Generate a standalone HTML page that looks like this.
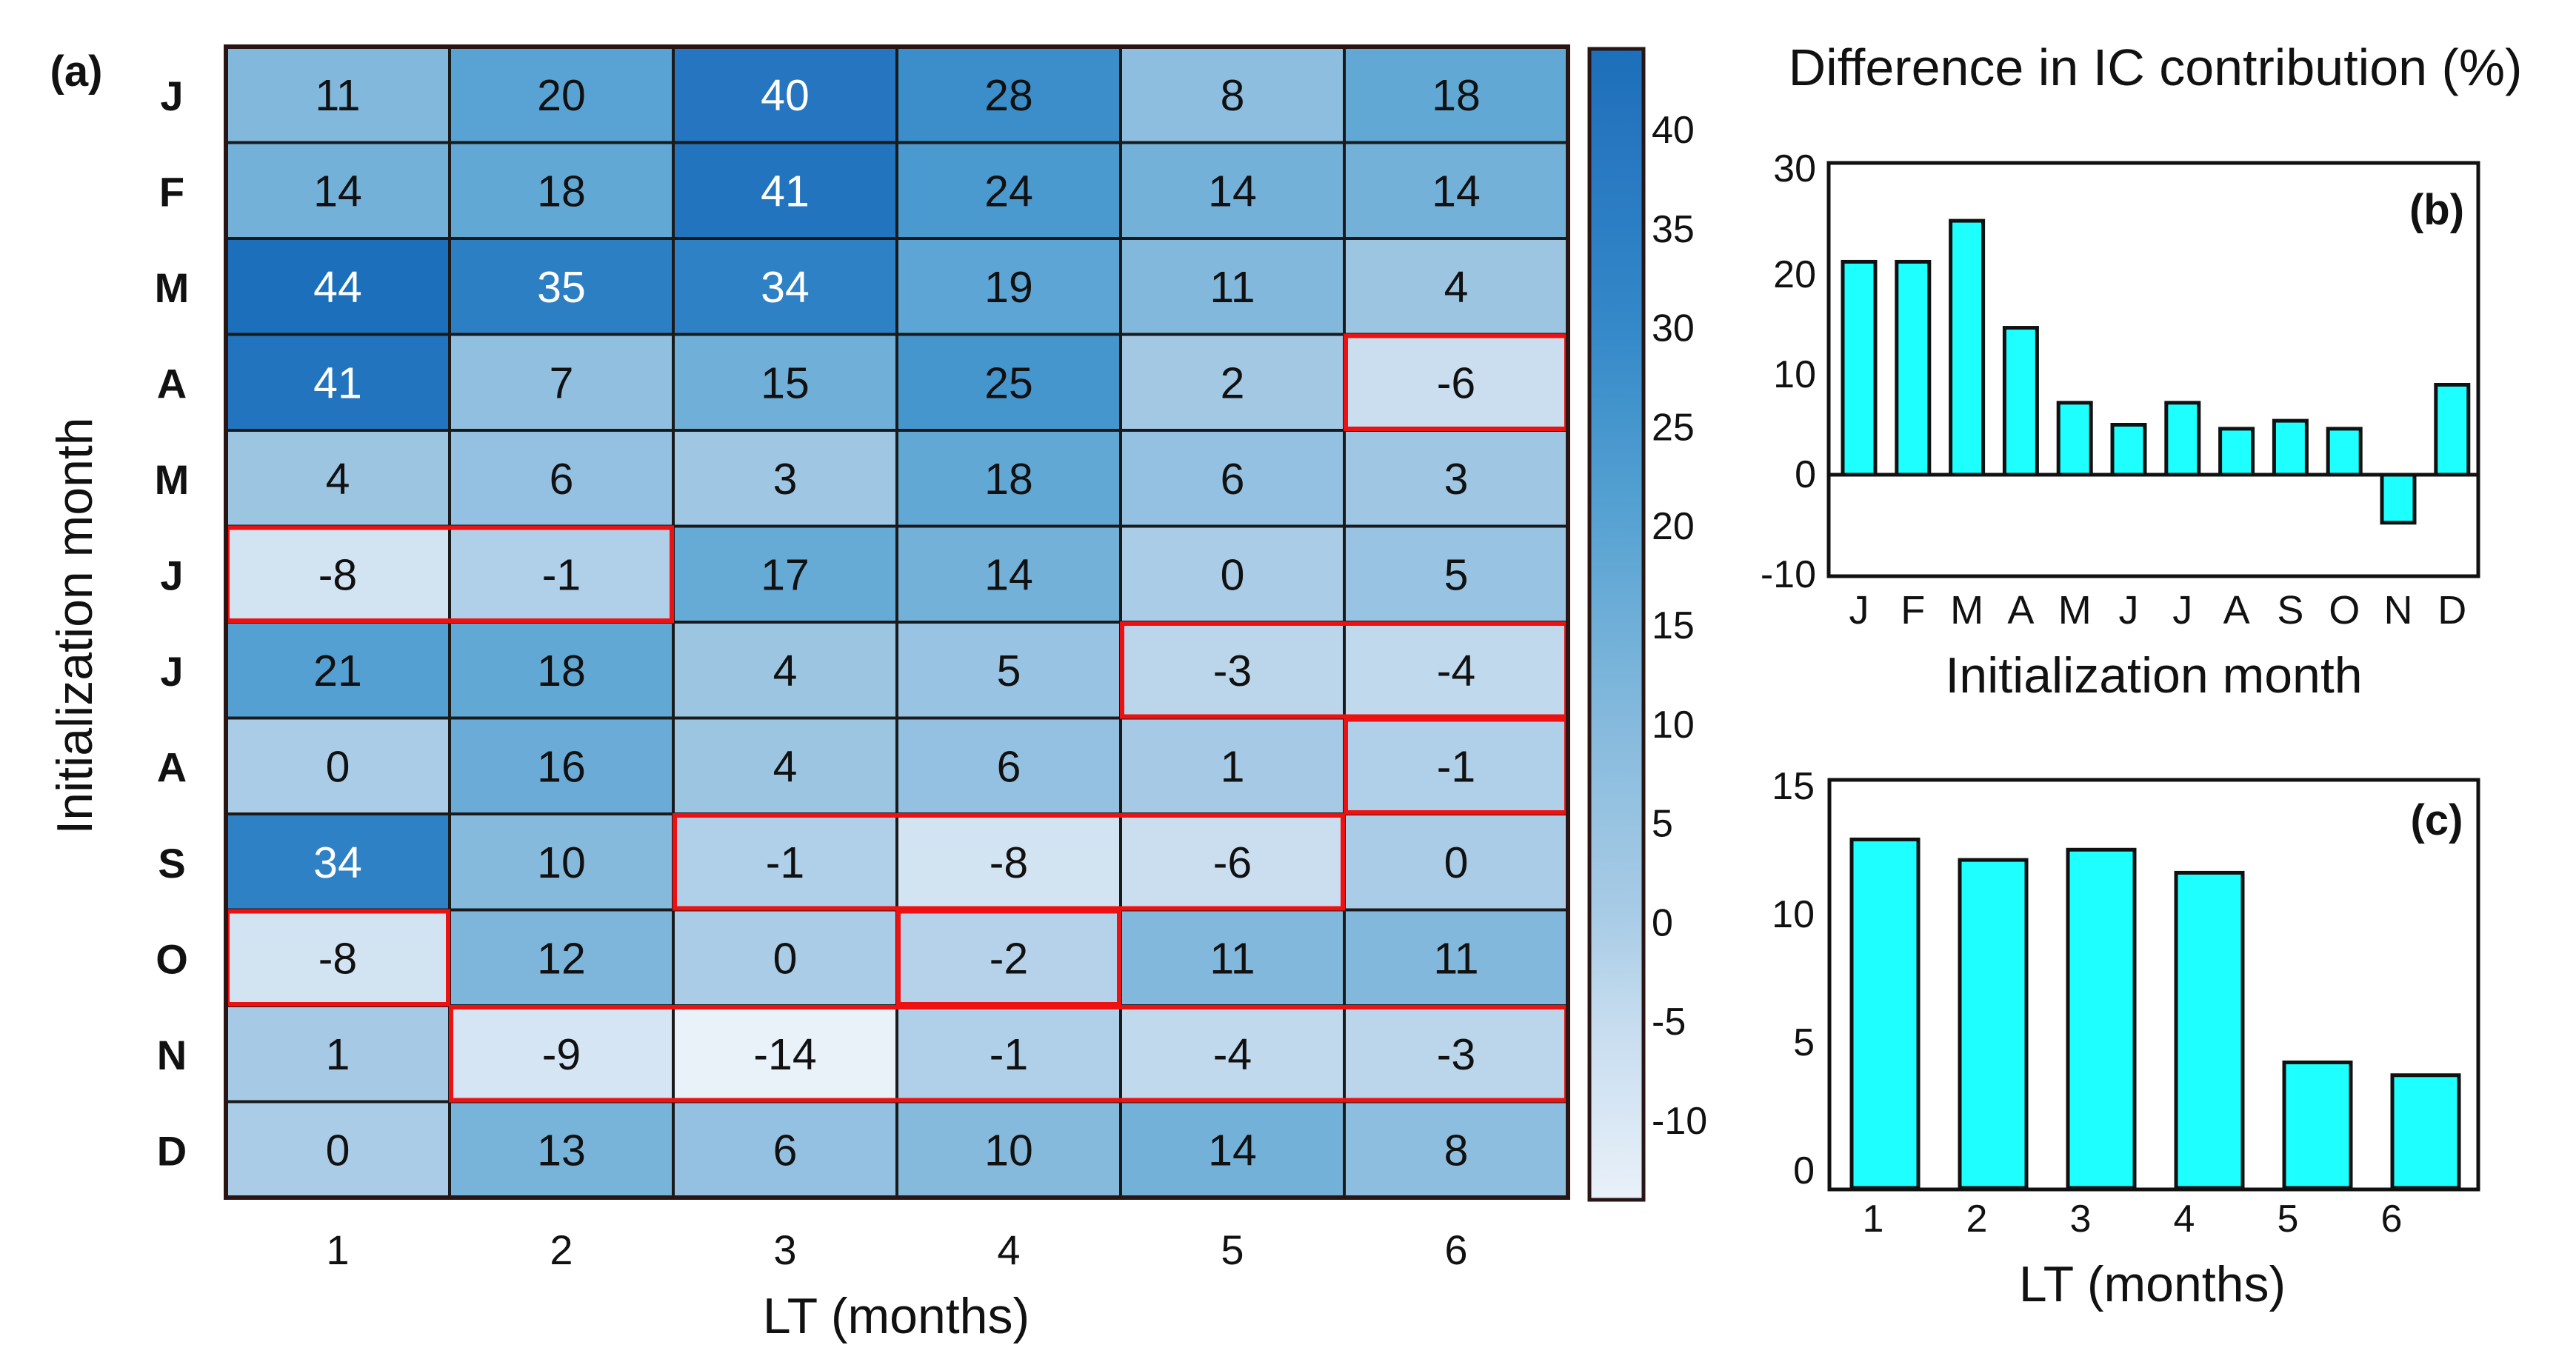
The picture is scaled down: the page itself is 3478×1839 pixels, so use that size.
<!DOCTYPE html>
<html><head><meta charset="utf-8"><style>
html,body{margin:0;padding:0;background:#fff;}
svg{display:block;font-family:"Liberation Sans",Arial,sans-serif;}
</style></head><body>
<svg id="fig" width="3478" height="1839" viewBox="0 0 3478 1839" xmlns="http://www.w3.org/2000/svg">
<g id="heat"></g>
<g id="cbar"></g>
<g id="pb"></g>
<g id="pc"></g>
</svg>
<script>
const rowLabels = ["J","F","M","A","M","J","J","A","S","O","N","D"];
const colLabels = ["1","2","3","4","5","6"];
const heatValues = [
 [11,20,40,28,8,18],
 [14,18,41,24,14,14],
 [44,35,34,19,11,4],
 [41,7,15,25,2,-6],
 [4,6,3,18,6,3],
 [-8,-1,17,14,0,5],
 [21,18,4,5,-3,-4],
 [0,16,4,6,1,-1],
 [34,10,-1,-8,-6,0],
 [-8,12,0,-2,11,11],
 [1,-9,-14,-1,-4,-3],
 [0,13,6,10,14,8]
];
const cbarTicks = [40,35,30,25,20,15,10,5,0,-5,-10];
const monthLabels = ["J","F","M","A","M","J","J","A","S","O","N","D"];
const monthValues = [21.3,21.3,25.4,14.7,7.2,5.0,7.2,4.6,5.4,4.6,-4.8,9.0];
const bTicks = [30,20,10,0,-10];
const ltLabels = ["1","2","3","4","5","6"];
const ltValues = [13.6,12.8,13.2,12.3,4.9,4.4];
const cTicks = [15,10,5,0];

const NS="http://www.w3.org/2000/svg";
function mk(parent, tag, attrs, text){
  const e=document.createElementNS(NS,tag);
  for(const k in attrs) e.setAttribute(k,attrs[k]);
  if(text!==undefined) e.textContent=text;
  parent.appendChild(e); return e;
}
const stops=[[-14,[233,241,249]],[-5,[198,220,239]],[0,[170,204,230]],[10,[134,186,221]],[20,[88,163,211]],[30,[52,137,200]],[40,[37,117,192]],[44,[28,111,186]]];
function color(v){
  if(v<=stops[0][0]) return "rgb("+stops[0][1]+")";
  for(let i=1;i<stops.length;i++){
    if(v<=stops[i][0]){const a=stops[i-1],b=stops[i];const t=(v-a[0])/(b[0]-a[0]);
      return "rgb("+a[1].map((c,j)=>Math.round(c+(b[1][j]-c)*t)).join(",")+")";}
  }
  return "rgb("+stops[stops.length-1][1]+")";
}
// ---- heatmap ----
const H=document.getElementById('heat');
const hx0=305,hy0=63,cw=302,rh=129.5;
const hx=c=>hx0+c*cw, hy=r=>hy0+r*rh;
heatValues.forEach((row,r)=>row.forEach((v,c)=>{
  const rect=mk(H,'rect',{x:hx(c),y:hy(r),width:cw,height:rh,fill:color(v),stroke:'#1a1a1a','stroke-width':4});
  
  
  const t=mk(H,'text',{x:hx(c)+cw/2,y:hy(r)+rh/2+21,'text-anchor':'middle','font-size':59,fill:v>=33?'#fff':'#111'},String(v));
  
  
}));
heatValues.forEach((row,r)=>{
  let c=0;
  while(c<row.length){
    if(row[c]<0){let s=c;while(c<row.length&&row[c]<0)c++;
      const b=mk(H,'rect',{x:hx(s)+2,y:hy(r)+2,width:(c-s)*cw-4,height:rh-4,fill:'none',stroke:'#ee1111','stroke-width':6});
      
      
    } else c++;
  }
});
const hb=mk(H,'rect',{x:hx0,y:hy0,width:6*cw,height:12*rh,fill:'none',stroke:'#2a1515','stroke-width':6});


rowLabels.forEach((l,r)=>{
  const t=mk(H,'text',{x:232,y:hy(r)+rh/2+21,'text-anchor':'middle','font-size':56,'font-weight':'bold',fill:'#111'},l);
  
  
});
colLabels.forEach((l,c)=>{
  const t=mk(H,'text',{x:hx(c)+cw/2,y:1707,'text-anchor':'middle','font-size':56,fill:'#111'},l);
  
  
});
let t;
t=mk(H,'text',{x:1210,y:1800,'text-anchor':'middle','font-size':68,fill:'#111'},'LT (months)');
 
t=mk(H,'text',{x:0,y:0,'text-anchor':'middle','font-size':68,fill:'#111',transform:'translate(124,845) rotate(-90)'},'Initialization month');
 
t=mk(H,'text',{x:103,y:116,'text-anchor':'middle','font-size':58,'font-weight':'bold',fill:'#111'},'(a)');
 
// ---- colorbar ----
const C=document.getElementById('cbar');
const defs=mk(C,'defs',{});
const g=mk(defs,'linearGradient',{id:'cg',x1:0,y1:0,x2:0,y2:1});
for(let k=0;k<=20;k++){const v=44-58*k/20;mk(g,'stop',{offset:(k/20),'stop-color':color(v)});}
const cby=v=>175+(40-v)*26.76;
const cr=mk(C,'rect',{x:2146,y:66,width:73,height:1554,fill:'url(#cg)',stroke:'#2a1515','stroke-width':5});
 
cbarTicks.forEach(v=>{
  const tt=mk(C,'text',{x:2230,y:cby(v)+18,'font-size':52,fill:'#111'},String(v));
   
});
// ---- panel b ----
const B=document.getElementById('pb');
const bL=2469,bR=3346,bT=220,bB=778;
const by=v=>641-13.5*v;
const bx=i=>2510+i*72.8;
t=mk(B,'text',{x:2910,y:115,'text-anchor':'middle','font-size':70,fill:'#111'},'Difference in IC contribution (%)');
 
monthValues.forEach((v,i)=>{
  const r=mk(B,'rect',{x:bx(i)-22,y:Math.min(by(v),by(0)),width:44,height:Math.abs(by(v)-by(0)),fill:'#1effff',stroke:'#111','stroke-width':5});
   
  const l=mk(B,'text',{x:bx(i),y:842,'text-anchor':'middle','font-size':54,fill:'#111'},monthLabels[i]);
   
});
mk(B,'line',{x1:bL,x2:bR,y1:by(0),y2:by(0),stroke:'#111','stroke-width':5});
const bf=mk(B,'rect',{x:bL,y:bT,width:bR-bL,height:bB-bT,fill:'none',stroke:'#111','stroke-width':5});
 
bTicks.forEach(v=>{
  const l=mk(B,'text',{x:2452,y:by(v)+17+(v===30?-8:0),'text-anchor':'end','font-size':52,fill:'#111'},String(v));
   
});
t=mk(B,'text',{x:2908,y:935,'text-anchor':'middle','font-size':68,fill:'#111'},'Initialization month');
 
t=mk(B,'text',{x:3290,y:303,'text-anchor':'middle','font-size':58,'font-weight':'bold',fill:'#111'},'(b)');
 
// ---- panel c ----
const P=document.getElementById('pc');
const cL=2470,cR=3346,cT=1053,cB=1606;
const cy=v=>1604-34.6*v;
const cx=i=>2545+i*146;
ltValues.forEach((v,i)=>{
  const r=mk(P,'rect',{x:cx(i)-45,y:cy(v),width:90,height:cy(0)-cy(v),fill:'#1effff',stroke:'#111','stroke-width':5});
   
  const l=mk(P,'text',{x:2529+i*140,y:1663,'text-anchor':'middle','font-size':52,fill:'#111'},ltLabels[i]);
   
});
const cf=mk(P,'rect',{x:cL,y:cT,width:cR-cL,height:cB-cT,fill:'none',stroke:'#111','stroke-width':5});
 
cTicks.forEach(v=>{
  const l=mk(P,'text',{x:2450,y:cy(v)-24+18,'text-anchor':'end','font-size':52,fill:'#111'},String(v));
   
});
t=mk(P,'text',{x:2906,y:1757,'text-anchor':'middle','font-size':68,fill:'#111'},'LT (months)');
 
t=mk(P,'text',{x:3290,y:1127,'text-anchor':'middle','font-size':58,'font-weight':'bold',fill:'#111'},'(c)');
 
</script>
</body></html>
